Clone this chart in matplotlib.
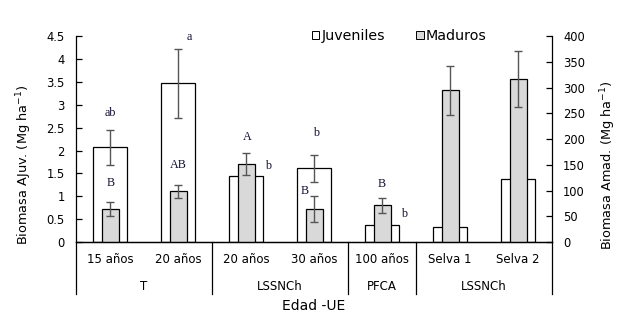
import numpy as np
import matplotlib
matplotlib.use("Agg")
import matplotlib.pyplot as plt
import matplotlib.transforms as mtransforms
from matplotlib.patches import Patch

# ---- data ----
categories = ["15 años", "20 años", "20 años", "30 años", "100 años", "Selva 1", "Selva 2"]
groups = ["T", "LSSNCh", "PFCA", "LSSNCh"]
group_sizes = [2, 2, 1, 2]
juveniles = [2.07, 3.47, 1.44, 1.61, 0.365, 0.32, 1.385]
juveniles_err = [0.39, 0.75, np.nan, 0.30, np.nan, np.nan, np.nan]
maduros = [63.6, 98.6, 151.0, 63.6, 71.4, 295.0, 316.5]
maduros_err = [13.5, 12.7, 21.4, 25.0, 14.6, 48.0, 54.5]
left_ticks = [0, 0.5, 1, 1.5, 2, 2.5, 3, 3.5, 4, 4.5]
left_ticklabels = ["0", "0.5", "1", "1.5", "2", "2.5", "3", "3.5", "4", "4.5"]
right_ticks = [0, 50, 100, 150, 200, 250, 300, 350, 400]
# significance letters: (text, category index, offset, y on left axis)
letters = [("ab", 0, 0.01, 2.83), ("B", 0, 0.01, 1.30),
           ("a", 1, 0.16, 4.49), ("AB", 1, 0.01, 1.685),
           ("A", 2, 0.02, 2.29), ("b", 2, 0.33, 1.67),
           ("b", 3, 0.03, 2.39), ("B", 3, -0.14, 1.12),
           ("B", 4, -0.005, 1.26), ("b", 4, 0.32, 0.606)]

W, H = 618, 323
fig = plt.figure(figsize=(W / 100, H / 100), dpi=100)
ax = fig.add_axes([76 / W, 1 - 242 / H, (552 - 76) / W, (242 - 36.3) / H])
ax2 = ax.twinx()

x = np.arange(len(categories))
gray = "#d9d9d9"
ax.bar(x, juveniles, width=0.5, color="white", edgecolor="black", linewidth=0.9, zorder=2)
je = np.array(juveniles_err)
m = ~np.isnan(je)
ax.errorbar(x[m], np.array(juveniles)[m], yerr=je[m], fmt="none", ecolor="#555555",
            elinewidth=1, capsize=3, capthick=1, zorder=3)
ax2.bar(x, maduros, width=0.25, color=gray, edgecolor="black", linewidth=0.9, zorder=2)
ax2.errorbar(x, maduros, yerr=maduros_err, fmt="none", ecolor="#555555",
             elinewidth=1, capsize=3, capthick=1, zorder=3)

ax.set_xlim(-0.5, len(categories) - 0.5)
ax.set_ylim(0, 4.5)
ax2.set_ylim(0, 400)
ax.set_yticks(left_ticks)
ax.set_yticklabels(left_ticklabels)
ax2.set_yticks(right_ticks)
ax.set_xticks([])
for a in (ax, ax2):
    a.spines["top"].set_visible(False)
    for s in a.spines.values():
        s.set_linewidth(0.9)
    a.tick_params(axis="y", direction="in", length=4, width=0.9, labelsize=8.3, pad=8)
ax2.spines["left"].set_visible(False)
ax.spines["right"].set_visible(False)

ax.set_ylabel("Biomasa AJuv. (Mg ha$^{-1}$)", fontsize=9.3)
ax2.set_ylabel("Biomasa Amad. (Mg ha$^{-1}$)", fontsize=9.3)
ax.yaxis.set_label_coords(-0.088, 0.374)
ax2.yaxis.set_label_coords(1.097, 0.374)

# letters
for t, i, dx, yy in letters:
    ax2.text(x[i] + dx, yy * 400 / 4.5, t, ha="center", va="center",
             fontsize=8.7, family="Liberation Serif", color="#111133", zorder=5)

# category/group labels
trans = mtransforms.blended_transform_factory(ax.transData, ax.transAxes)
for i, c in enumerate(categories):
    ax.text(x[i], -0.0875, c, transform=trans, ha="center", va="center", fontsize=8.5)
bounds = np.concatenate([[0], np.cumsum(group_sizes)]) - 0.5
for b in bounds:
    ax.plot([b, b], [0, -0.253], transform=trans, color="black", lw=0.9, clip_on=False)
for g, b0, b1 in zip(groups, bounds[:-1], bounds[1:]):
    ax.text((b0 + b1) / 2, -0.214, g, transform=trans, ha="center", va="center", fontsize=8.5)
ax.text(0.5 * (len(categories) - 1), -0.311, "Edad -UE", transform=trans,
        ha="center", va="center", fontsize=10)

# legend
handles = [Patch(facecolor="white", edgecolor="black", linewidth=0.7),
           Patch(facecolor=gray, edgecolor="black", linewidth=0.7)]
fig.legend(handles, ["Juveniles", "Maduros"], ncol=2, frameon=False,
           loc="center left", bbox_to_anchor=(312 / W, 1 - 36 / H),
           handlelength=0.5, handleheight=0.5, handletextpad=0.15,
           columnspacing=2.2, fontsize=10.3, borderaxespad=0, borderpad=0)

fig.savefig("out.png", dpi=100)
